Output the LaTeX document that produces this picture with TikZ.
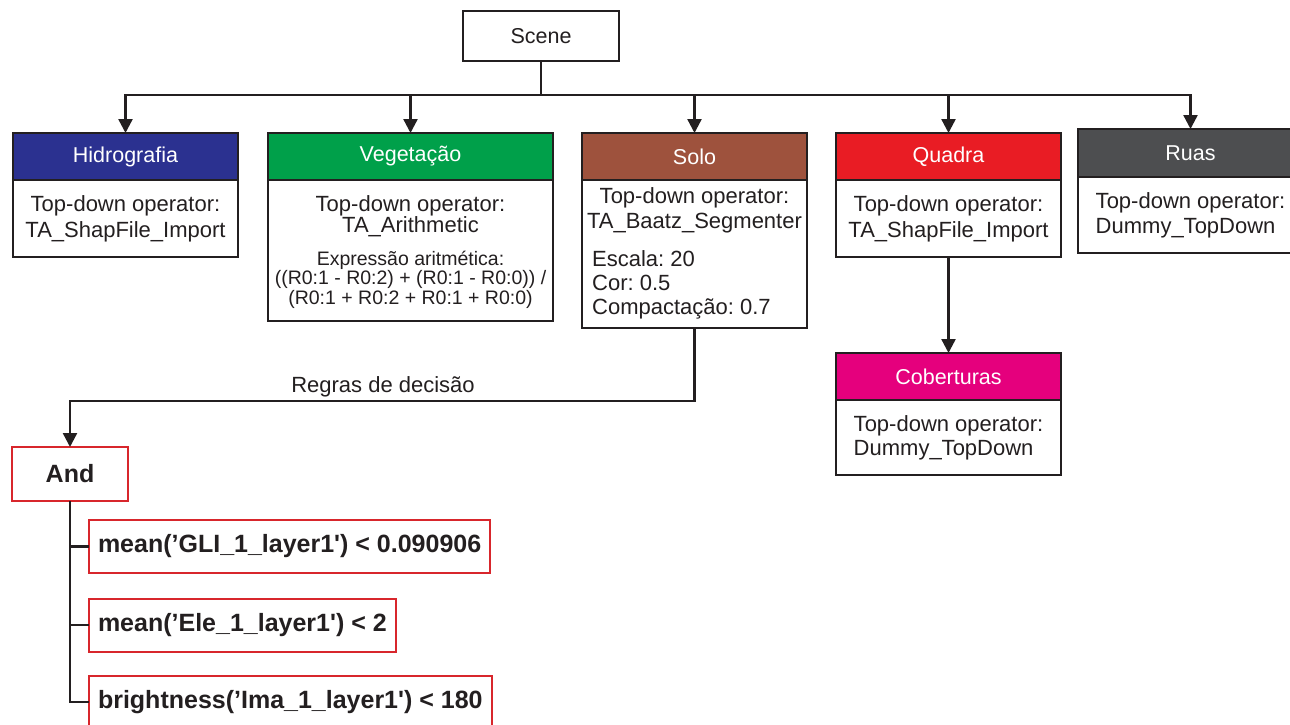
\documentclass[tikz,border=0pt]{standalone}
\usepackage{fontspec}
\setmainfont{Liberation Sans}
\usetikzlibrary{arrows.meta}
\definecolor{ink}{HTML}{231F20}
\definecolor{hidroc}{HTML}{2B3190}
\definecolor{vegc}{HTML}{00A04A}
\definecolor{soloc}{HTML}{9E523D}
\definecolor{quadrac}{HTML}{E91C24}
\definecolor{ruasc}{HTML}{4D4E50}
\definecolor{cobc}{HTML}{E5007D}
\definecolor{rulered}{HTML}{D8262C}
\begin{document}
\frenchspacing
\begin{tikzpicture}[x=1pt,y=-1pt,
  box/.style={draw=ink, line width=2.4pt, inner sep=0pt, outer sep=0pt, anchor=north west},
  hdr/.style={box, text=white, font=\fontsize{21.5}{25}\selectfont},
  bodybox/.style={box, fill=white},
  txt/.style={font=\fontsize{22}{25}\selectfont, text=ink, inner sep=0pt},
  smalltxt/.style={font=\fontsize{19.5}{20}\selectfont, text=ink, inner sep=0pt},
  rulebox/.style={draw=rulered, line width=2pt, fill=white, text=ink,
    font=\bfseries\fontsize{25}{30}\selectfont, inner xsep=9pt, inner ysep=0pt,
    outer sep=0pt, minimum height=53, anchor=west},
  conn/.style={draw=ink, line width=2.4pt},
  arr/.style={conn, -{Triangle[length=14pt,width=14pt]}}
]
\useasboundingbox (0,0) rectangle (1290,725);
\clip (0,0) rectangle (1290,725);
\fill[white] (0,0) rectangle (1290,725);

% Scene
\node[box, fill=white, minimum width=156, minimum height=50, font=\fontsize{21.5}{25}\selectfont, text=ink] (scene) at (463,11) {Scene};

% Hidrografia
\node[bodybox, minimum width=225, minimum height=77] (hidrob) at (13,180) {};
\node[hdr, fill=hidroc, minimum width=225, minimum height=47] (hidro) at (13,133) {Hidrografia};
\node[txt, anchor=base] (hidrot1) at (125.5,211) {Top-down operator:};
\node[txt, anchor=base] (hidrot2) at (125.5,237) {TA\_ShapFile\_Import};

% Vegetacao
\node[bodybox, minimum width=285, minimum height=141] (vegb) at (268,180) {};
\node[hdr, fill=vegc, minimum width=285, minimum height=47] (veg) at (268,133) {Vegetação};
\node[txt, anchor=base] (vegt1) at (410.5,211) {Top-down operator:};
\node[txt, anchor=base] (vegt2) at (410.5,232) {TA\_Arithmetic};
\node[smalltxt, anchor=base] (vegt3) at (410.5,265) {Expressão aritmética:};
\node[smalltxt, anchor=base] (vegt4) at (410.5,284.5) {((R0:1 - R0:2) + (R0:1 - R0:0)) /};
\node[smalltxt, anchor=base] (vegt5) at (410.5,304) {(R0:1 + R0:2 + R0:1 + R0:0)};

% Solo
\node[bodybox, minimum width=225, minimum height=148] (solob) at (582,180) {};
\node[hdr, fill=soloc, minimum width=225, minimum height=47] (solo) at (582,133) {Solo};
\node[txt, anchor=base] (solot1) at (694.5,203) {Top-down operator:};
\node[txt, anchor=base] (solot2) at (694.5,228) {TA\_Baatz\_Segmenter};
\node[txt, anchor=base west] (solot3) at (592,266) {Escala: 20};
\node[txt, anchor=base west] (solot4) at (592,290) {Cor: 0.5};
\node[txt, anchor=base west] (solot5) at (592,314) {Compactação: 0.7};

% Quadra
\node[bodybox, minimum width=225, minimum height=77] (quadrab) at (836,180) {};
\node[hdr, fill=quadrac, minimum width=225, minimum height=47] (quadra) at (836,133) {Quadra};
\node[txt, anchor=base] (quadrat1) at (948.5,211) {Top-down operator:};
\node[txt, anchor=base] (quadrat2) at (948.5,237) {TA\_ShapFile\_Import};

% Ruas
\node[bodybox, minimum width=225, minimum height=76] (ruasb) at (1078,177) {};
\node[hdr, fill=ruasc, minimum width=225, minimum height=48] (ruas) at (1078,129) {Ruas};
\node[txt, align=left, font=\fontsize{22}{25}\selectfont, anchor=center] (ruast) at (ruasb.center) {Top-down operator:\\Dummy\_TopDown};

% Coberturas
\node[bodybox, minimum width=225, minimum height=75] (cobb) at (836,400) {};
\node[hdr, fill=cobc, minimum width=225, minimum height=47] (cob) at (836,353) {Coberturas};
\node[txt, align=left, font=\fontsize{22}{24}\selectfont, anchor=center] (cobt) at (cobb.center) {Top-down operator:\\Dummy\_TopDown};

% Rules
\node[rulebox, anchor=north west, minimum width=116, minimum height=54, inner xsep=0pt] (andn) at (12,447) {And};
\node[rulebox] (r1) at (89,546.5) {mean(’GLI\_1\_layer1\textquotesingle) < 0.090906};
\node[rulebox] (r2) at (89,625) {mean(’Ele\_1\_layer1\textquotesingle) < 2};
\node[rulebox] (r3) at (89,702) {brightness(’Ima\_1\_layer1\textquotesingle) < 180};

% Connectors
\coordinate (bus) at ([yshift=-34pt]scene.south);
\draw[conn] (scene.south) -- (bus);
\draw[arr] (bus) -| (hidro.north);
\draw[arr] (bus) -| (veg.north);
\draw[arr] (bus) -| (solo.north);
\draw[arr] (bus) -| (quadra.north);
\draw[arr] (bus) -| (ruas.north);
\draw[arr] (quadrab.south) -- (cob.north);
\coordinate (rturn) at ([yshift=-73pt]solob.south);
\draw[arr] (solob.south) -- (rturn) -| (andn.north);
\node[txt, anchor=base] (regras) at (383,392) {Regras de decisão};
\draw[conn] (andn.south) |- (r3.west);
\draw[conn] (andn.south |- r1.west) -- (r1.west);
\draw[conn] (andn.south |- r2.west) -- (r2.west);
\end{tikzpicture}
\end{document}
